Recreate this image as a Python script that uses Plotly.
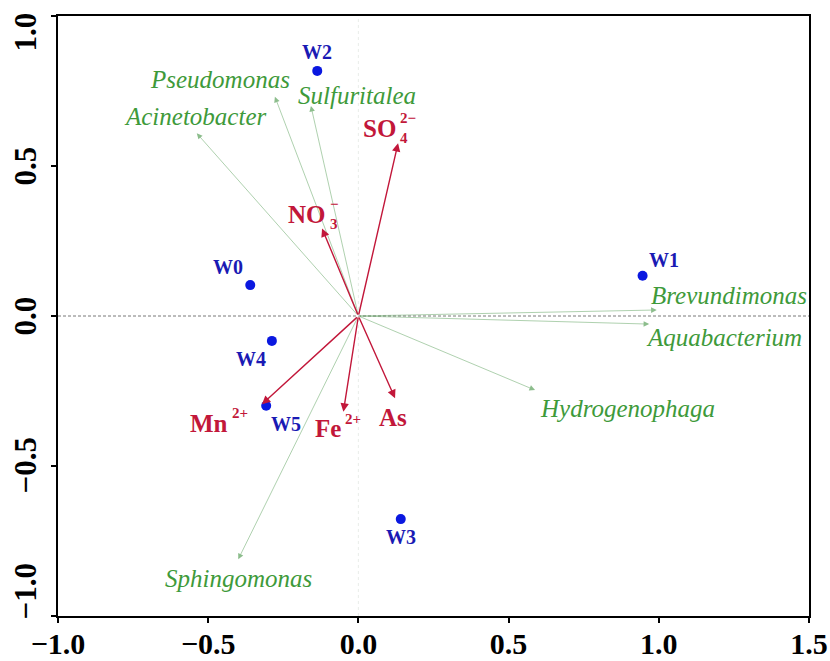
import plotly.graph_objects as go

# Sampling sites (scores on RDA1 / RDA2)
sites = ["W0", "W1", "W2", "W3", "W4", "W5"]
site_x = [-0.36, 0.946, -0.137, 0.141, -0.288, -0.307]
site_y = [0.103, 0.134, 0.817, -0.677, -0.083, -0.299]

# Environmental factors (arrow tips)
env_base = ["SO", "NO", "Mn", "Fe", "As"]
env_sup = ["2−", "−", "2+", "2+", ""]
env_sub = ["4", "3", "", "", ""]
env_x = [0.132, -0.121, -0.321, -0.05, 0.122]
env_y = [0.576, 0.292, -0.294, -0.319, -0.274]

# Dominant genera (arrow tips)
genera = ["Acinetobacter", "Pseudomonas", "Sulfuritalea", "Brevundimonas",
          "Aquabacterium", "Hydrogenophaga", "Sphingomonas"]
gen_x = [-0.538, -0.278, -0.158, 0.993, 0.968, 0.588, -0.40]
gen_y = [0.609, 0.731, 0.70, 0.02, -0.027, -0.247, -0.811]

# Axis ticks
x_ticks = [-1.0, -0.5, 0.0, 0.5, 1.0, 1.5]
x_tick_text = ["−1.0", "−0.5", "0.0", "0.5", "1.0", "1.5"]
y_ticks = [-1.0, -0.5, 0.0, 0.5, 1.0]
y_tick_text = ["−1.0", "−0.5", "0.0", "0.5", "1.0"]

SERIF = "Liberation Serif"
RED = "#c2173a"
GREEN = "#3e9a3a"
BLUE_PT = "#0a18e0"
BLUE_TX = "#1a1ab4"

# label placement (screen px, +dy = down)
site_off = {"W0": (-22, -18), "W1": (21, -16), "W2": (0, -19),
            "W3": (0, 18), "W4": (-21, 18), "W5": (20, 18)}
gen_off = {"Acinetobacter": ("center", -2, -17),
           "Pseudomonas": ("center", -55, -17),
           "Sulfuritalea": ("center", 46, -11),
           "Brevundimonas": ("left", -8, -15),
           "Aquabacterium": ("left", -5, 13),
           "Hydrogenophaga": ("left", 3, 18),
           "Sphingomonas": ("center", 0, 19)}
# (right edge of base text relative to tip, vertical centre)
env_off = {"SO": (0, -15), "NO": (6, -14), "Mn": (-32, 19),
           "Fe": (0, 17), "As": (14, 19)}

fig = go.Figure()

fig.add_trace(go.Scatter(
    x=site_x, y=site_y, mode="markers",
    marker=dict(size=10, color=BLUE_PT), hoverinfo="text", text=sites,
    showlegend=False, cliponaxis=False))

# reference lines through the origin
fig.add_shape(type="line", xref="x", yref="y", x0=-1.0, x1=1.5, y0=0, y1=0,
              line=dict(color="#555555", width=0.8, dash="3px,2px"), layer="below")
fig.add_shape(type="line", xref="x", yref="y", x0=0, x1=0, y0=-1.0, y1=1.0,
              line=dict(color="#e4e8e4", width=0.8, dash="dot"), layer="below")

ann = []

# genus arrows and labels
for name, gx, gy in zip(genera, gen_x, gen_y):
    ann.append(dict(x=gx, y=gy, ax=0, ay=0, xref="x", yref="y", axref="x", ayref="y",
                    text="", showarrow=True, arrowhead=2, arrowsize=1.6,
                    arrowwidth=0.7, arrowcolor="rgba(80,155,80,0.65)", standoff=0))
    anc, dx, dy = gen_off[name]
    ann.append(dict(x=gx, y=gy, xref="x", yref="y", text="<i>%s</i>" % name,
                    showarrow=False, xanchor=anc, yanchor="middle",
                    xshift=dx, yshift=-dy,
                    font=dict(family=SERIF, size=25, color=GREEN)))

# environmental factor arrows and labels
for base, sup, sub, ex, ey in zip(env_base, env_sup, env_sub, env_x, env_y):
    ann.append(dict(x=ex, y=ey, ax=0, ay=0, xref="x", yref="y", axref="x", ayref="y",
                    text="", showarrow=True, arrowhead=2, arrowsize=1.2,
                    arrowwidth=1.4, arrowcolor=RED, standoff=0))
    dx, dy = env_off[base]
    ann.append(dict(x=ex, y=ey, xref="x", yref="y", text="<b>%s</b>" % base,
                    showarrow=False, xanchor="right", yanchor="middle",
                    xshift=dx, yshift=-dy,
                    font=dict(family=SERIF, size=25, color=RED)))
    if sup:
        ann.append(dict(x=ex, y=ey, xref="x", yref="y", text="<b>%s</b>" % sup,
                        showarrow=False, xanchor="left", yanchor="middle",
                        xshift=dx, yshift=-(dy - 10),
                        font=dict(family=SERIF, size=15, color=RED)))
    if sub:
        ann.append(dict(x=ex, y=ey, xref="x", yref="y", text="<b>%s</b>" % sub,
                        showarrow=False, xanchor="left", yanchor="middle",
                        xshift=dx, yshift=-(dy + 10),
                        font=dict(family=SERIF, size=15, color=RED)))

# site labels
for s, sx, sy in zip(sites, site_x, site_y):
    dx, dy = site_off[s]
    ann.append(dict(x=sx, y=sy, xref="x", yref="y", text="<b>%s</b>" % s,
                    showarrow=False, xanchor="center", yanchor="middle",
                    xshift=dx, yshift=-dy,
                    font=dict(family=SERIF, size=20, color=BLUE_TX)))

# rotated y tick labels
y_shift = {1.0: -16, -1.0: 24}
for v, t in zip(y_ticks, y_tick_text):
    ann.append(dict(x=0, xref="paper", y=v, yref="y", text="<b>%s</b>" % t,
                    showarrow=False, textangle=-90, xanchor="right", yanchor="middle",
                    xshift=-14, yshift=y_shift.get(v, 0),
                    font=dict(family=SERIF, size=31, color="black")))

fig.update_layout(
    width=830, height=661,
    margin=dict(l=58, r=21, t=16, b=45, autoexpand=False),
    plot_bgcolor="white", paper_bgcolor="white",
    annotations=ann,
    xaxis=dict(range=[-1.0, 1.5], tickvals=x_ticks, ticktext=x_tick_text,
               automargin=False, ticklabelstandoff=-5,
               showgrid=False, zeroline=False, showline=True, linecolor="black",
               linewidth=2, mirror=True, ticks="outside", ticklen=5, tickwidth=2,
               tickcolor="black",
               tickfont=dict(family=SERIF, size=30, color="black", weight="bold")),
    yaxis=dict(range=[-1.0, 1.0], tickvals=y_ticks, showticklabels=False,
               automargin=False,
               showgrid=False, zeroline=False, showline=True, linecolor="black",
               linewidth=2, mirror=True, ticks="outside", ticklen=5, tickwidth=2,
               tickcolor="black"),
)

fig.write_html("out.html")
